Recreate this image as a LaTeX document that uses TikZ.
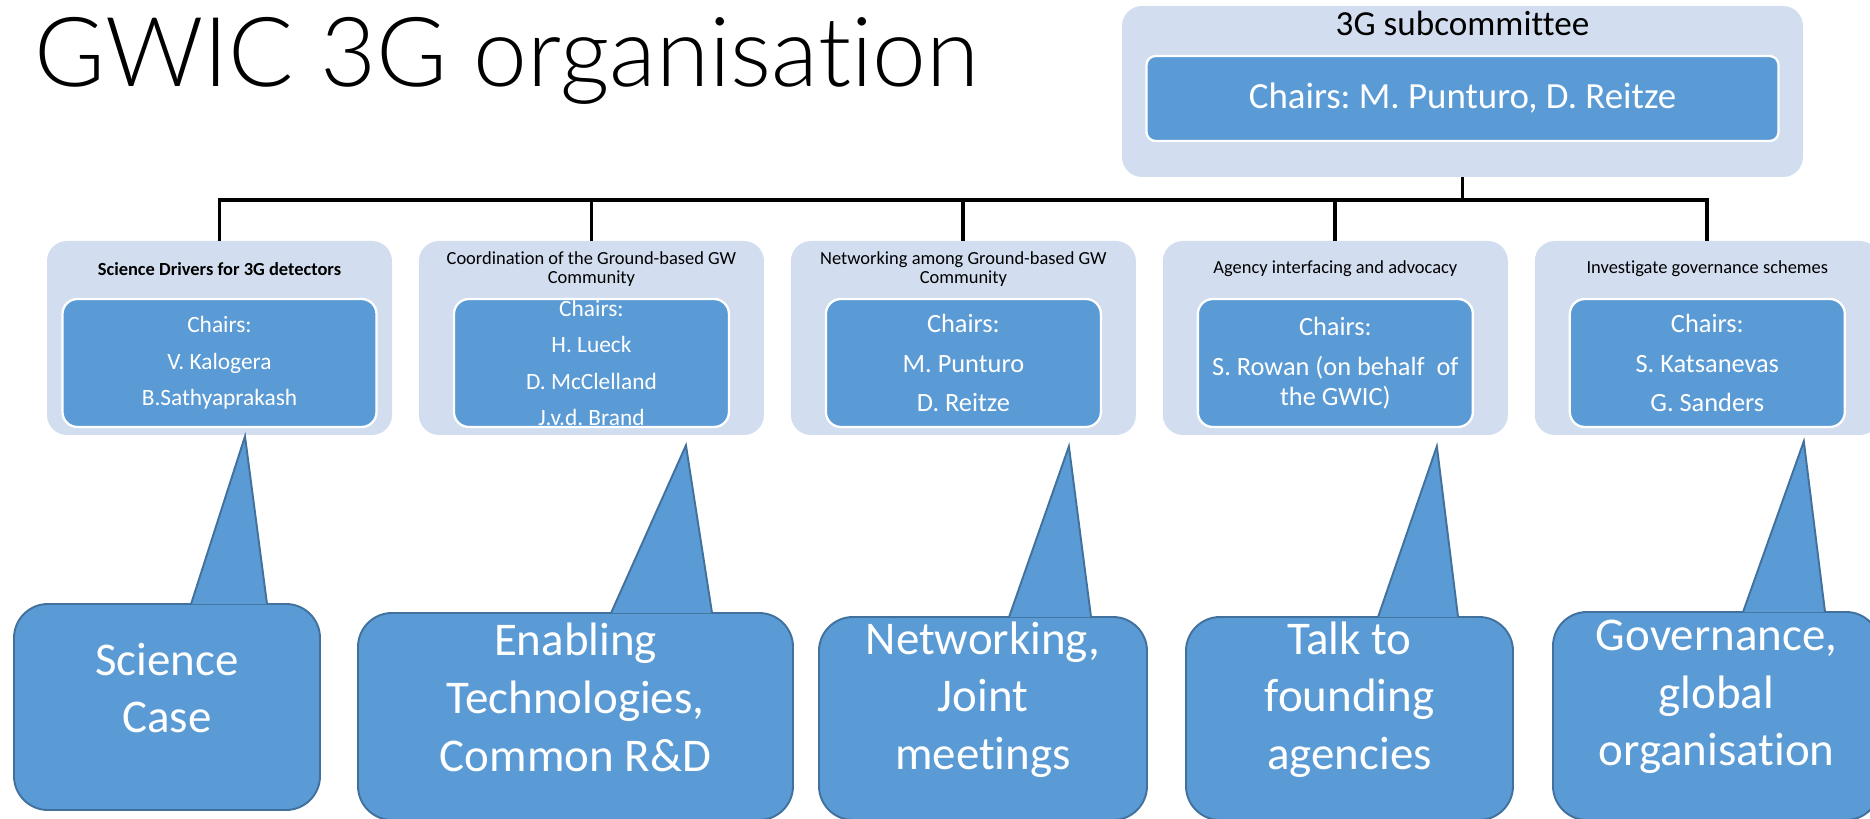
\documentclass[tikz,border=0pt]{standalone}
\usepackage{fontspec}
\setmainfont{Carlito}[Ligatures=NoCommon]
\newfontfamily\headingfont{Lato Light}[Ligatures=NoCommon]
\frenchspacing
\usetikzlibrary{positioning}
\definecolor{gwicPale}{HTML}{D2DEEF}
\definecolor{gwicBlue}{HTML}{5B9BD5}
\definecolor{gwicEdge}{HTML}{41719C}

\begin{document}
\begin{tikzpicture}[node distance=0.525cm,
    panel/.style={fill=gwicPale, rounded corners=0.4cm, minimum width=6.9cm,
      minimum height=3.88cm, inner sep=0pt},
    chairbox/.style={fill=gwicBlue, draw=white, line width=1.3pt, rounded corners=0.3cm,
      minimum width=5.5cm, minimum height=2.56cm, text=white, align=center, inner sep=1pt},
    panelhead/.style={align=center, inner sep=0pt, font=\fontsize{10.5}{11.3}\selectfont},
    bubble/.style={fill=gwicBlue, draw=gwicEdge, line width=1.1pt, rounded corners=0.68cm,
      inner sep=0pt},
    tail/.style={fill=gwicBlue, draw=gwicEdge, line width=1.1pt, line join=miter},
    bubbletext/.style={text=white, align=center, inner sep=0pt,
      font=\fontsize{26.7}{32.8}\selectfont},
    link/.style={line width=2.2pt}]

    \useasboundingbox (0,0) rectangle (37.4,16.36);

    \node[anchor=base west, inner sep=0pt, font=\headingfont\fontsize{55}{66}\selectfont] (title)
      at (0.68,14.62) {GWIC 3G organisation};

    % subcommittee
    \node[panel, minimum width=13.62cm, minimum height=3.42cm] (sub) at (29.25,14.53) {};
    \node[anchor=base, inner sep=0pt, font=\fontsize{20}{24}\selectfont] (subHead)
      at ([yshift=-0.6cm]sub.north) {3G subcommittee};
    \node[chairbox, rounded corners=0.18cm, minimum width=12.64cm, minimum height=1.7cm,
      font=\fontsize{21}{25}\selectfont] (subChairs) at ([yshift=-0.14cm]sub.center)
      {Chairs: M. Punturo, D. Reitze};

    % working groups
    \node[panel] (science) at (4.39,9.6) {};
    \node[panel, right=of science] (coord) {};
    \node[panel, right=of coord] (network) {};
    \node[panel, right=of network] (agency) {};
    \node[panel, right=of agency] (gov) {};

    \node[panelhead, font=\fontsize{10.5}{11.3}\selectfont\bfseries] (scienceHead)
      at ([yshift=-0.57cm]science.north) {Science Drivers for 3G detectors};
    \node[panelhead] (coordHead) at ([yshift=-0.57cm]coord.north)
      {Coordination of the Ground-based GW\\Community};
    \node[panelhead] (networkHead) at ([yshift=-0.57cm]network.north)
      {Networking among Ground-based GW\\Community};
    \node[panelhead] (agencyHead) at ([yshift=-0.57cm]agency.north)
      {Agency interfacing and advocacy};
    \node[panelhead] (govHead) at ([yshift=-0.57cm]gov.north)
      {Investigate governance schemes};

    \node[chairbox, minimum width=6.28cm, font=\fontsize{13.3}{20.7}\selectfont] (scienceChairs)
      at ([yshift=-0.5cm]science.center) {Chairs:\\V. Kalogera\\B.Sathyaprakash};
    \node[chairbox, path picture={
        \node[text=white, align=center, font=\fontsize{13.3}{20.7}\selectfont]
          at (path picture bounding box.center)
          {Chairs:\\H. Lueck\\D. McClelland\\J.v.d. Brand};}] (coordChairs)
      at ([yshift=-0.5cm]coord.center) {};
    \node[chairbox, font=\fontsize{15}{22.7}\selectfont] (networkChairs)
      at ([yshift=-0.5cm]network.center) {Chairs:\\M. Punturo\\D. Reitze};
    \node[chairbox, font=\fontsize{15}{17}\selectfont] (agencyChairs)
      at ([yshift=-0.5cm]agency.center) {Chairs:\\[5.7pt]S. Rowan (on behalf~ of\\the GWIC)};
    \node[chairbox, font=\fontsize{15}{22.7}\selectfont] (govChairs)
      at ([yshift=-0.5cm]gov.center) {Chairs:\\S. Katsanevas\\G. Sanders};

    % tree lines
    \draw[link] (sub.south) -- ++(0,-0.46) coordinate (bus);
    \draw[link] (science.north) -- (bus -| science.north) -- (bus -| gov.north) -- (gov.north);
    \foreach \g in {coord, network, agency}
      \draw[link] (bus -| \g.north) -- (\g.north);

    % callouts
    \node[bubble, minimum width=6.12cm, minimum height=4.12cm] (caseBubble) at (3.34,2.22) {};
    \filldraw[tail] ([xshift=3.56cm, yshift=-0.6pt]caseBubble.north west)
      -- ([xshift=0.51cm, yshift=-0.02cm]science.south)
      -- ([xshift=5.08cm, yshift=-0.6pt]caseBubble.north west);
    \node[bubbletext] (caseText) at ([yshift=0.38cm]caseBubble.center) {Science\\Case};

    \node[bubble, minimum width=8.7cm, minimum height=4.14cm] (techBubble) at (11.51,2.03) {};
    \filldraw[tail] ([xshift=5.08cm, yshift=-0.6pt]techBubble.north west)
      -- ([xshift=1.89cm, yshift=-0.2cm]coord.south)
      -- ([xshift=7.1cm, yshift=-0.6pt]techBubble.north west);
    \node[bubbletext] (techText) at ([yshift=0.38cm]techBubble.center)
      {Enabling\\Technologies,\\Common R\&D};

    \node[bubble, minimum width=6.56cm, minimum height=4.06cm] (meetBubble) at (19.66,1.99) {};
    \filldraw[tail] ([xshift=3.82cm, yshift=-0.6pt]meetBubble.north west)
      -- ([xshift=2.11cm, yshift=-0.22cm]network.south)
      -- ([xshift=5.46cm, yshift=-0.6pt]meetBubble.north west);
    \node[bubbletext] (meetText) at ([yshift=0.38cm]meetBubble.center)
      {Networking,\\Joint\\meetings};

    \node[bubble, minimum width=6.54cm, minimum height=4.06cm] (agencyBubble) at (26.99,1.99) {};
    \filldraw[tail] ([xshift=3.86cm, yshift=-0.6pt]agencyBubble.north west)
      -- ([xshift=2.03cm, yshift=-0.22cm]agency.south)
      -- ([xshift=5.46cm, yshift=-0.6pt]agencyBubble.north west);
    \node[bubbletext] (agencyText) at ([yshift=0.38cm]agencyBubble.center)
      {Talk to\\founding\\agencies};

    \node[bubble, minimum width=6.54cm, minimum height=4.16cm] (govBubble) at (34.33,2.04) {};
    \filldraw[tail] ([xshift=3.82cm, yshift=-0.6pt]govBubble.north west)
      -- ([xshift=1.93cm, yshift=-0.12cm]gov.south)
      -- ([xshift=5.46cm, yshift=-0.6pt]govBubble.north west);
    \node[bubbletext] (govText) at ([yshift=0.38cm]govBubble.center)
      {Governance,\\global\\organisation};
\end{tikzpicture}
\end{document}
